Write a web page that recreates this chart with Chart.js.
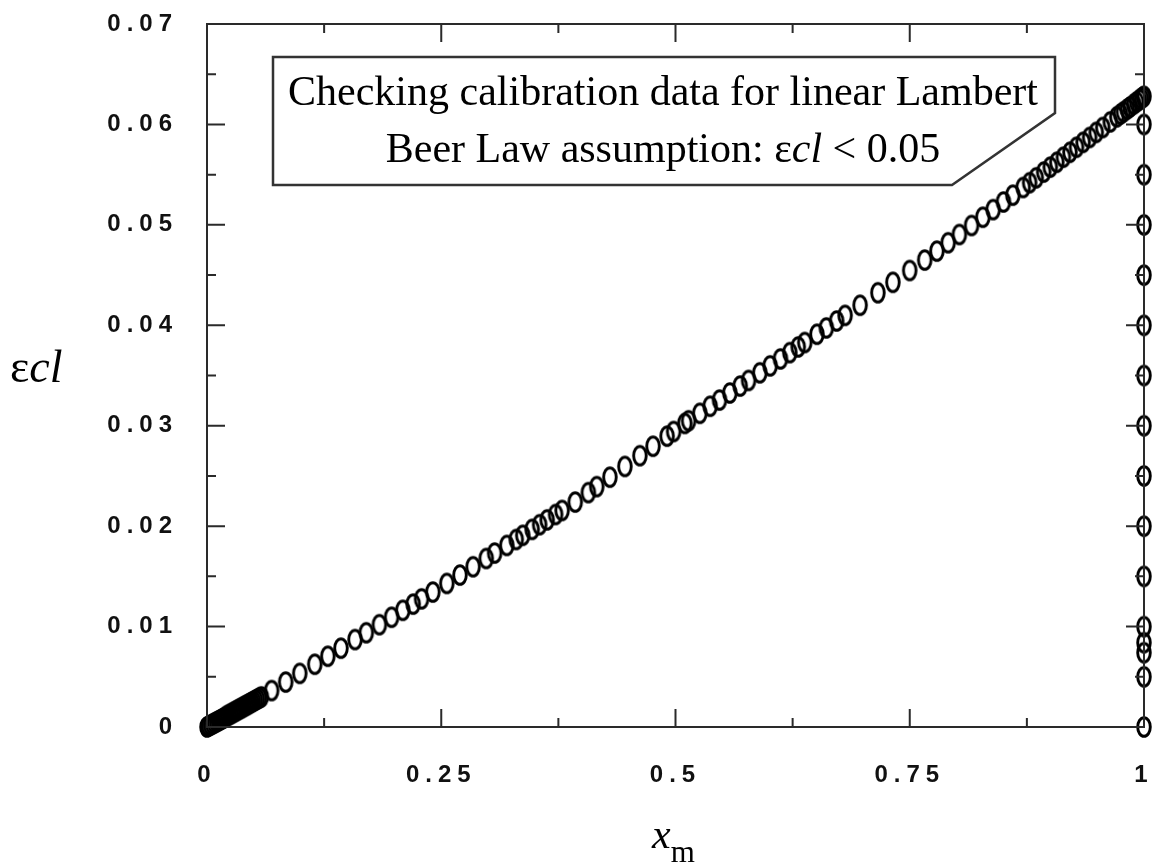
<!DOCTYPE html>
<html>
<head>
<meta charset="utf-8">
<script src="https://cdn.jsdelivr.net/npm/chart.js@4.4.1/dist/chart.umd.min.js"></script>
<style>
    html, body { margin: 0; padding: 0; background: #fff; }
    canvas { display: block; }
</style>
</head>
<body>
<canvas id="eclChart" width="1156" height="866"></canvas>
<script>
// Calibration curve: mole fraction x_m and the matching εcl values
const xmCurve = [
    0, 0.002, 0.004, 0.006, 0.008, 0.010, 0.012, 0.014, 0.016, 0.018, 0.020, 0.022, 0.024, 0.026, 0.028,
    0.030, 0.032, 0.034, 0.036, 0.038, 0.040, 0.042, 0.044, 0.046, 0.048, 0.050, 0.052, 0.054, 0.056, 0.058,
    0.069, 0.084, 0.099, 0.115, 0.129, 0.143, 0.158, 0.170, 0.184, 0.197, 0.209, 0.220, 0.229, 0.241, 0.256,
    0.270, 0.284, 0.298, 0.307, 0.320, 0.330, 0.337, 0.347, 0.355, 0.363, 0.372, 0.379, 0.393,
    0.407, 0.416, 0.430, 0.446, 0.462, 0.476, 0.491, 0.498, 0.510,
    0.514, 0.526, 0.537, 0.547, 0.558, 0.569, 0.578, 0.590, 0.601, 0.612, 0.622, 0.631, 0.638, 0.651, 0.661, 0.672, 0.681, 0.697,
    0.716, 0.732, 0.750, 0.766,
    0.779, 0.791, 0.803, 0.816, 0.828, 0.839, 0.850, 0.860, 0.871, 0.878,
    0.885, 0.893, 0.900, 0.907, 0.914, 0.921, 0.928, 0.935, 0.942, 0.949, 0.956, 0.964, 0.971, 0.975, 0.978,
    0.982, 0.985, 0.989, 0.992, 0.995, 0.997, 0.999, 1.000
];
const eclCurve = [
    0, 0.0001, 0.0002, 0.0003, 0.0004, 0.0005, 0.0006, 0.0007, 0.0008, 0.0009, 0.00103, 0.00114, 0.00124, 0.00134, 0.00145,
    0.00155, 0.00165, 0.00176, 0.00186, 0.00196, 0.00207, 0.00217, 0.00227, 0.00238, 0.00248, 0.00258, 0.00269, 0.00279, 0.0029, 0.003,
    0.00363, 0.00448, 0.00534, 0.00625, 0.00705, 0.00785, 0.00871, 0.00939, 0.01019, 0.01093, 0.01162, 0.01224, 0.01276, 0.01344, 0.0143,
    0.01513, 0.01596, 0.01678, 0.01732, 0.01808, 0.01867, 0.01909, 0.01968, 0.02015, 0.02063, 0.02116, 0.02157, 0.0224,
    0.02334, 0.02394, 0.02488, 0.02595, 0.02702, 0.02796, 0.02896, 0.02943, 0.03023,
    0.0305, 0.03124, 0.03194, 0.03256, 0.03326, 0.03395, 0.03451, 0.03527, 0.03596, 0.03665, 0.03728, 0.03785, 0.03829, 0.03911, 0.03974, 0.04043, 0.04099, 0.0420,
    0.04324, 0.04428, 0.04546, 0.0465,
    0.04739, 0.04822, 0.04904, 0.04994, 0.05076, 0.05152, 0.05228, 0.05296, 0.05372, 0.0542,
    0.05469, 0.05526, 0.05575, 0.05624, 0.05674, 0.05723, 0.05773, 0.05822, 0.05871, 0.05921, 0.0597, 0.06026, 0.06076, 0.06104, 0.06125,
    0.06153, 0.06174, 0.06202, 0.06224, 0.06245, 0.06259, 0.06273, 0.0628
];

// Points stacked on the x_m = 1 edge
const xmEdge = 1;
const eclEdge = [0, 0.005, 0.0074, 0.0084, 0.01, 0.015, 0.02, 0.025, 0.03, 0.035, 0.04, 0.045, 0.05, 0.055, 0.06];

// Tick labels
const xTicks = [0, 0.25, 0.5, 0.75, 1];
const yTicks = [0, 0.01, 0.02, 0.03, 0.04, 0.05, 0.06, 0.07];

const frameColor = '#2a2a2a';
const tickFont = { family: 'Liberation Sans', size: 24, weight: 'bold' };

// Open ellipse marker (taller than wide)
function makeEllipseMarker() {
    const c = document.createElement('canvas');
    c.width = 20;
    c.height = 26;
    const g = c.getContext('2d');
    g.strokeStyle = '#000';
    g.lineWidth = 2.9;
    g.beginPath();
    g.ellipse(10, 13, 6.3, 9.3, 0, 0, Math.PI * 2);
    g.stroke();
    return c;
}
const marker = makeEllipseMarker();

// Draw text made of several styled runs
function drawRuns(ctx, runs, x, y, align) {
    let total = 0;
    runs.forEach(r => { ctx.font = r.font; r.w = ctx.measureText(r.text).width; total += r.w; });
    let cx = align === 'center' ? x - total / 2 : x;
    runs.forEach(r => {
        ctx.font = r.font;
        ctx.fillText(r.text, cx, y + (r.dy || 0));
        cx += r.w;
    });
}

const framePlugin = {
    id: 'framePlugin',
    beforeDraw(chart) {
        chart.ctx.letterSpacing = '6px';
    },
    beforeDatasetsDraw(chart) {
        chart.ctx.letterSpacing = '0px';
    },
    afterDraw(chart) {
        const ctx = chart.ctx;
        const a = chart.chartArea;
        const xs = chart.scales.x;
        const ys = chart.scales.y;
        ctx.save();
        ctx.letterSpacing = '0px';
        ctx.strokeStyle = frameColor;
        ctx.lineWidth = 2;

        // frame
        ctx.strokeRect(a.left, a.top, a.right - a.left, a.bottom - a.top);

        // inward ticks, major on tick values and minor half way
        const major = 18, minor = 9;
        ctx.beginPath();
        xTicks.forEach((v, i) => {
            const px = xs.getPixelForValue(v);
            ctx.moveTo(px, a.bottom); ctx.lineTo(px, a.bottom - major);
            ctx.moveTo(px, a.top); ctx.lineTo(px, a.top + major);
            if (i < xTicks.length - 1) {
                const mx = xs.getPixelForValue((v + xTicks[i + 1]) / 2);
                ctx.moveTo(mx, a.bottom); ctx.lineTo(mx, a.bottom - minor);
                ctx.moveTo(mx, a.top); ctx.lineTo(mx, a.top + minor);
            }
        });
        yTicks.forEach((v, i) => {
            const py = ys.getPixelForValue(v);
            ctx.moveTo(a.left, py); ctx.lineTo(a.left + major, py);
            ctx.moveTo(a.right, py); ctx.lineTo(a.right - major, py);
            if (i < yTicks.length - 1) {
                const my = ys.getPixelForValue((v + yTicks[i + 1]) / 2);
                ctx.moveTo(a.left, my); ctx.lineTo(a.left + minor, my);
                ctx.moveTo(a.right, my); ctx.lineTo(a.right - minor, my);
            }
        });
        ctx.stroke();

        // callout box
        ctx.beginPath();
        ctx.moveTo(273, 57);
        ctx.lineTo(1055, 57);
        ctx.lineTo(1055, 113);
        ctx.lineTo(952, 185);
        ctx.lineTo(273, 185);
        ctx.closePath();
        ctx.fillStyle = '#fff';
        ctx.fill();
        ctx.lineWidth = 2.5;
        ctx.strokeStyle = '#333';
        ctx.stroke();

        const serif = '"Liberation Serif", "Times New Roman", serif';
        ctx.fillStyle = '#000';
        ctx.textBaseline = 'alphabetic';
        ctx.textAlign = 'left';
        drawRuns(ctx, [{ text: 'Checking calibration data for linear Lambert', font: '42px ' + serif }], 663, 105, 'center');
        drawRuns(ctx, [
            { text: 'Beer Law assumption: ε', font: '42px ' + serif },
            { text: 'cl', font: 'italic 42px ' + serif },
            { text: ' < 0.05', font: '42px ' + serif }
        ], 663, 162, 'center');

        // axis titles
        drawRuns(ctx, [
            { text: 'ε', font: '46px ' + serif },
            { text: 'cl', font: 'italic 46px ' + serif }
        ], 10, 382, 'left');
        drawRuns(ctx, [
            { text: 'x', font: 'italic 42px ' + serif },
            { text: 'm', font: '31px ' + serif, dy: 14 }
        ], 652, 848, 'left');
        ctx.restore();
    }
};

// keep the plot box where the reference has it: no extra label overflow padding
function noOverflowPadding(s) {
    s.paddingLeft = 0;
    s.paddingRight = 0;
    s.paddingTop = 0;
    s.paddingBottom = 0;
}

const ctx = document.getElementById('eclChart').getContext('2d');
new Chart(ctx, {
    type: 'scatter',
    data: {
        datasets: [{
            label: 'calibration',
            data: xmCurve.map((x, i) => ({ x: x, y: eclCurve[i] })),
            pointStyle: marker,
            pointRadius: 10,
            clip: false
        }, {
            label: 'edge',
            data: eclEdge.map(y => ({ x: xmEdge, y: y })),
            pointStyle: marker,
            pointRadius: 10,
            clip: false
        }]
    },
    options: {
        responsive: false,
        animation: false,
        layout: {
            padding: { left: 0, right: 12, top: 24, bottom: 0 }
        },
        plugins: {
            legend: { display: false },
            tooltip: { enabled: false }
        },
        scales: {
            x: {
                type: 'linear',
                min: 0,
                max: 1,
                afterBuildTicks: s => { s.ticks = xTicks.map(v => ({ value: v })); },
                afterFit: s => { s.height = 139; noOverflowPadding(s); },
                grid: { display: false, drawTicks: false },
                border: { display: false },
                ticks: {
                    color: '#111',
                    font: tickFont,
                    padding: 34,
                    maxRotation: 0,
                    callback: v => String(v)
                }
            },
            y: {
                type: 'linear',
                min: 0,
                max: 0.07,
                afterBuildTicks: s => { s.ticks = yTicks.map(v => ({ value: v })); },
                afterFit: s => { s.width = 207; noOverflowPadding(s); },
                grid: { display: false, drawTicks: false },
                border: { display: false },
                ticks: {
                    color: '#111',
                    font: tickFont,
                    padding: 29,
                    callback: v => String(v)
                }
            }
        }
    },
    plugins: [framePlugin]
});
</script>
</body>
</html>
